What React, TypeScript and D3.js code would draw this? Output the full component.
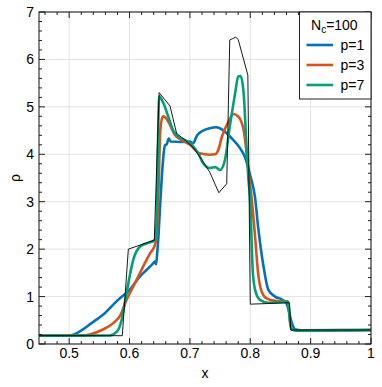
import React, { useEffect, useRef } from "react";
import * as d3 from "d3";

// exact solution (thin black)
const exactX = [0.45, 0.588, 0.598, 0.641, 0.649, 0.667, 0.678, 0.69, 0.705, 0.72, 0.733, 0.742, 0.748, 0.761, 0.766, 0.771, 0.776, 0.78, 0.796, 0.8, 0.865, 0.867, 1];
const exactRho = [0.175, 0.175, 2.0, 2.19, 5.3, 5.02, 4.44, 4.32, 4.15, 3.88, 3.62, 3.36, 3.19, 3.38, 6.41, 6.44, 6.47, 6.42, 5.67, 0.84, 0.87, 0.295, 0.295];

const p1X = [0.45, 0.5, 0.517, 0.537, 0.559, 0.581, 0.6, 0.617, 0.628, 0.639, 0.642, 0.644, 0.646, 0.648, 0.651, 0.655, 0.659, 0.661, 0.665, 0.668, 0.685, 0.7, 0.705, 0.712, 0.722, 0.733, 0.744, 0.755, 0.769, 0.783, 0.791, 0.8, 0.808, 0.813, 0.822, 0.83, 0.841, 0.852, 0.86, 0.869, 0.874, 0.885, 1];
const p1Rho = [0.175, 0.18, 0.26, 0.44, 0.65, 0.93, 1.14, 1.42, 1.56, 1.7, 1.74, 1.68, 1.95, 2.3, 3.0, 3.8, 4.2, 4.2, 4.33, 4.27, 4.26, 4.27, 4.23, 4.4, 4.5, 4.55, 4.57, 4.51, 4.34, 4.13, 3.95, 3.55, 3.08, 2.47, 1.63, 1.14, 1.0, 0.94, 0.86, 0.44, 0.31, 0.29, 0.295];

const p3X = [0.45, 0.52, 0.534, 0.555, 0.573, 0.585, 0.595, 0.606, 0.617, 0.628, 0.634, 0.642, 0.645, 0.648, 0.651, 0.655, 0.659, 0.667, 0.675, 0.686, 0.7, 0.716, 0.733, 0.742, 0.747, 0.753, 0.764, 0.772, 0.78, 0.789, 0.794, 0.798, 0.802, 0.808, 0.813, 0.819, 0.827, 0.841, 0.862, 0.865, 0.868, 0.875, 1];
const p3Rho = [0.175, 0.18, 0.2, 0.3, 0.44, 0.61, 0.93, 1.21, 1.49, 1.77, 1.91, 2.09, 2.3, 3.25, 4.51, 4.8, 4.78, 4.62, 4.41, 4.3, 4.2, 4.02, 3.99, 4.0, 4.09, 4.37, 4.69, 4.85, 4.8, 4.51, 4.02, 3.53, 3.1, 2.26, 1.49, 1.1, 0.96, 0.91, 0.9, 0.58, 0.31, 0.29, 0.295];

const p7X = [0.45, 0.567, 0.579, 0.587, 0.592, 0.598, 0.606, 0.617, 0.628, 0.642, 0.645, 0.647, 0.649, 0.656, 0.664, 0.672, 0.681, 0.692, 0.703, 0.714, 0.722, 0.733, 0.742, 0.75, 0.758, 0.766, 0.775, 0.78, 0.784, 0.789, 0.793, 0.797, 0.8, 0.802, 0.804, 0.808, 0.816, 0.83, 0.863, 0.866, 0.869, 0.879, 1];
const p7Rho = [0.175, 0.18, 0.26, 0.51, 0.86, 1.28, 1.77, 2.05, 2.12, 2.19, 2.6, 4.16, 5.22, 5.08, 4.8, 4.51, 4.37, 4.3, 4.2, 4.02, 3.81, 3.71, 3.73, 3.67, 3.88, 4.58, 5.29, 5.64, 5.65, 5.29, 4.37, 3.46, 3.0, 2.26, 1.56, 1.14, 0.93, 0.87, 0.89, 0.44, 0.31, 0.28, 0.295];

const xTicks = [0.5, 0.6, 0.7, 0.8, 0.9, 1];
const yTicks = [0, 1, 2, 3, 4, 5, 6, 7];
const legendLabels = ["p=1", "p=3", "p=7"];
const colors = ["#0072BD", "#D95319", "#00A07A"];

const App = () => {
    const ref = useRef<SVGSVGElement>(null);
    const W = 382, H = 387;
    const m = { left: 39, right: 371, top: 12, bottom: 344 };

    useEffect(() => {
        const svg = d3.select(ref.current);
        svg.selectAll("*").remove();
        const font = "'Liberation Sans', Arial, sans-serif";

        const x = d3.scaleLinear().domain([0.45, 1]).range([m.left, m.right]);
        const y = d3.scaleLinear().domain([0, 7]).range([m.bottom, m.top]);

        // grid
        const grid = svg.append("g").attr("stroke", "#e3e3e3").attr("stroke-width", 1);
        xTicks.forEach((t) => {
            grid.append("line").attr("x1", x(t)).attr("x2", x(t)).attr("y1", m.top).attr("y2", m.bottom);
        });
        yTicks.forEach((t) => {
            grid.append("line").attr("x1", m.left).attr("x2", m.right).attr("y1", y(t)).attr("y2", y(t));
        });

        const clip = svg.append("clipPath").attr("id", "plotclip");
        clip.append("rect").attr("x", m.left).attr("y", m.top)
            .attr("width", m.right - m.left).attr("height", m.bottom - m.top);

        const lines = svg.append("g").attr("clip-path", "url(#plotclip)");
        const series = [
            { xs: p1X, ys: p1Rho, color: colors[0] },
            { xs: p3X, ys: p3Rho, color: colors[1] },
            { xs: p7X, ys: p7Rho, color: colors[2] },
        ];
        const smooth = d3.line<[number, number]>()
            .x((d) => x(d[0])).y((d) => y(d[1]))
            .curve(d3.curveMonotoneX);
        series.forEach((s) => {
            lines.append("path")
                .datum(s.xs.map((v, i) => [v, s.ys[i]] as [number, number]))
                .attr("d", smooth)
                .attr("fill", "none")
                .attr("stroke", s.color)
                .attr("stroke-width", 2.6)
                .attr("stroke-linejoin", "round");
        });
        const straight = d3.line<[number, number]>().x((d) => x(d[0])).y((d) => y(d[1]));
        lines.append("path")
            .datum(exactX.map((v, i) => [v, exactRho[i]] as [number, number]))
            .attr("d", straight)
            .attr("fill", "none")
            .attr("stroke", "#000")
            .attr("stroke-width", 0.9);

        // ticks on all four sides, pointing inward
        const tk = svg.append("g").attr("stroke", "#222").attr("stroke-width", 1);
        const xMinor = d3.range(0.46, 1.0, 0.02).filter((v) => xTicks.every((t) => Math.abs(t - v) > 1e-6));
        const yMinor = d3.range(0.2, 7, 0.2).filter((v) => Math.abs(v - Math.round(v)) > 1e-6);
        const tick = (v: number, len: number) => {
            tk.append("line").attr("x1", x(v)).attr("x2", x(v)).attr("y1", m.bottom).attr("y2", m.bottom - len);
            tk.append("line").attr("x1", x(v)).attr("x2", x(v)).attr("y1", m.top).attr("y2", m.top + len);
        };
        const tickY = (v: number, len: number) => {
            tk.append("line").attr("x1", m.left).attr("x2", m.left + len).attr("y1", y(v)).attr("y2", y(v));
            tk.append("line").attr("x1", m.right).attr("x2", m.right - len).attr("y1", y(v)).attr("y2", y(v));
        };
        xTicks.forEach((t) => tick(t, 6));
        xMinor.forEach((t) => tick(t, 3));
        yTicks.forEach((t) => tickY(t, 6));
        yMinor.forEach((t) => tickY(t, 3));

        svg.append("rect")
            .attr("x", m.left).attr("y", m.top)
            .attr("width", m.right - m.left).attr("height", m.bottom - m.top)
            .attr("fill", "none").attr("stroke", "#111").attr("stroke-width", 1);

        // tick labels
        svg.append("g").selectAll("text").data(xTicks).join("text")
            .attr("x", (d) => x(d)).attr("y", m.bottom + 14)
            .attr("text-anchor", "middle")
            .attr("font-family", font).attr("font-size", 14)
            .text((d) => String(d));
        svg.append("g").selectAll("text").data(yTicks).join("text")
            .attr("x", m.left - 5).attr("y", (d) => y(d) + 5)
            .attr("text-anchor", "end")
            .attr("font-family", font).attr("font-size", 14)
            .text((d) => String(d));

        svg.append("text")
            .attr("x", (m.left + m.right) / 2).attr("y", 378)
            .attr("text-anchor", "middle")
            .attr("font-family", font).attr("font-size", 14)
            .text("x");
        svg.append("text")
            .attr("transform", `translate(20,${(m.top + m.bottom) / 2}) rotate(-90)`)
            .attr("text-anchor", "middle")
            .attr("font-family", font).attr("font-size", 14)
            .text("ρ");

        // legend
        const lg = svg.append("g");
        lg.append("rect")
            .attr("x", 299.5).attr("y", m.top)
            .attr("width", m.right - 299.5).attr("height", 87)
            .attr("fill", "#fff").attr("stroke", "#222").attr("stroke-width", 1);
        const title = lg.append("text")
            .attr("x", 311).attr("y", 30)
            .attr("font-family", font).attr("font-size", 14);
        title.append("tspan").text("N");
        title.append("tspan").attr("font-size", 10).attr("dy", 3).text("c");
        title.append("tspan").attr("dy", -3).text("=100");
        legendLabels.forEach((lab, i) => {
            const ly = 45 + i * 20;
            lg.append("line")
                .attr("x1", 306.5).attr("x2", 333).attr("y1", ly).attr("y2", ly)
                .attr("stroke", colors[i]).attr("stroke-width", 2.6);
            lg.append("text")
                .attr("x", 340.5).attr("y", ly + 5)
                .attr("font-family", font).attr("font-size", 14)
                .text(lab);
        });
    }, []);

    return (
        <div>
            <svg ref={ref} width={W} height={H}
                style={{ position: "absolute", left: 0, top: 0, background: "#fff" }}></svg>
        </div>
    );
};

export default App;
